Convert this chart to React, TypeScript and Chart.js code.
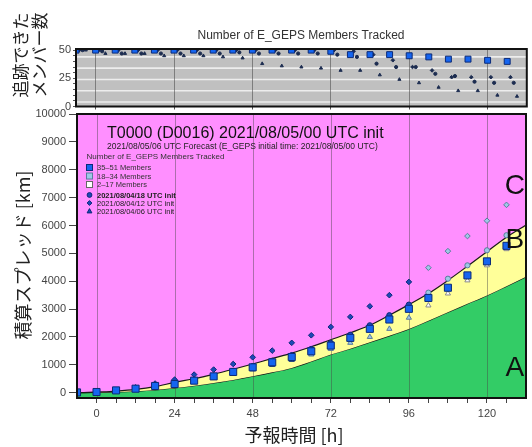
import React, { useEffect, useRef } from 'react';
import { Chart, registerables } from 'chart.js';
Chart.register(...registerables);

const W = 532;
const H = 447;
const LATIN = '"Liberation Sans", Arial, sans-serif';
const CJK = '"Noto Sans CJK JP", "Noto Sans CJK SC", sans-serif';

// ---------- data ----------
const forecastHours = [-6, 0, 6, 12, 18, 24, 30, 36, 42, 48, 54, 60, 66, 72, 78, 84, 90, 96, 102, 108, 114, 120, 126];
const boundHours = [-6, 0, 6, 12, 18, 24, 30, 36, 42, 48, 54, 60, 66, 72, 78, 84, 90, 96, 102, 108, 114, 120, 126, 132];
// upper edge of region A (green) and of region B (yellow), km
const boundA = [0, 10, 25, 55, 100, 170, 250, 350, 460, 590, 730, 890, 1120, 1370, 1580, 1810, 2040, 2290, 2580, 2890, 3190, 3490, 3820, 4160];
const boundB = [0, 20, 60, 120, 220, 370, 500, 660, 840, 1030, 1230, 1420, 1650, 1900, 2150, 2420, 2780, 3160, 3560, 4030, 4540, 5060, 5580, 6020];

// accumulated spread [km]
const spreadT0000 = [10, 25, 83, 144, 241, 313, 432, 586, 745, 910, 1090, 1280, 1486, 1690, 1968, 2291, 2626, 3010, 3400, 3766, 4209, 4712, 5270];
const spread0418 = [10, 25, 85, 150, 255, 335, 460, 615, 785, 955, 1145, 1350, 1570, 1790, 2080, 2420, 2780, 3160, 3590, 4090, 4570, 5110, 5650];
const spread0412 = [10, 25, 100, 190, 330, 470, 650, 830, 1030, 1270, 1510, 1790, 2060, 2360, 2720, 3100, 3500, 3975, 4485, 5080, 5620, 6170, 6740];
const spread0406 = [10, 20, 75, 130, 220, 290, 400, 540, 690, 840, 1000, 1180, 1370, 1570, 1790, 2000, 2290, 2690, 3130, 3560, 4030, 4570, 5150];

// number of members tracked
const membersT0000 = [50, 50, 50, 50, 50, 50, 50, 50, 50, 50, 50, 50, 50, 49, 46, 46, 46, 45, 44, 42, 42, 41, 40];
const members0418 = [50, 49, 47, 47, 47, 47, 47, 47, 48, 47, 47, 47, 47, 46, 44, 38, 35, 35, 29, 27, 22, 21, 21];
const members0412 = [50, 50, 50, 50, 50, 50, 50, 50, 50, 50, 50, 50, 50, 50, 49, 46, 41, 35, 32, 26, 26, 26, 26];
const members0406 = [50, 47, 47, 47, 45, 45, 45, 44, 43, 38, 36, 35, 34, 32, 32, 28, 24, 21, 17, 14, 14, 10, 9];

// ticks
const xLabelHours = [0, 24, 48, 72, 96, 120];
const xMinorHours = [0, 6, 12, 18, 24, 30, 36, 42, 48, 54, 60, 66, 72, 78, 84, 90, 96, 102, 108, 114, 120, 126];
const yTicksMain = [0, 1000, 2000, 3000, 4000, 5000, 6000, 7000, 8000, 9000, 10000];
const yTicksTop = [0, 5, 10, 15, 20, 25, 30, 35, 40, 45, 50];
const yLabelsTop = [0, 25, 50];
const topGuideLines = [4, 14, 24, 34, 44];

// horizontal offsets (hours) used in the member panel to separate the series
const offset0412 = 1;
const offset0418 = 2;
const offset0406 = 3;

const regionLabels = [
  { text: 'C', x: 128.6, y: 7420 },
  { text: 'B', x: 128.6, y: 5480 },
  { text: 'A', x: 128.6, y: 860 },
];

// ---------- styles ----------
const PINK = '#ff8fff';
const GREEN = '#33cc66';
const YELLOW = '#ffff99';
const TOPBG = '#c0c0c0';
const DARK = '#1565f0';
const DARK_SMALL = '#1d48b8';
const LIGHT = '#9ec8e6';
const WHITE = '#ffffff';

const fillFor = (dark: string) => (n: number) => (n >= 35 ? dark : n >= 18 ? LIGHT : WHITE);
const edgeFor = (n: number) => (n >= 35 ? '#0b2a78' : n >= 18 ? '#5a7c9c' : '#8a8a8a');

function pointSet(label: string, xs: number[], ys: number[], members: number[], style: string, radius: number, order: number, dark: string, dotColor?: string) {
  return {
    label,
    data: xs.map((x, i) => ({ x, y: ys[i] })),
    showLine: false,
    pointStyle: style,
    pointRadius: radius,
    pointBorderWidth: 1,
    pointBackgroundColor: dotColor ? dotColor : members.map(fillFor(dark)),
    pointBorderColor: dotColor ? dotColor : members.map(edgeFor),
    order,
  };
}

function drawMarker(ctx: CanvasRenderingContext2D, kind: string, x: number, y: number, r: number) {
  ctx.beginPath();
  if (kind === 'circle') ctx.arc(x, y, r, 0, Math.PI * 2);
  else if (kind === 'diamond') {
    ctx.moveTo(x, y - r); ctx.lineTo(x + r, y); ctx.lineTo(x, y + r); ctx.lineTo(x - r, y); ctx.closePath();
  } else if (kind === 'triangle') {
    ctx.moveTo(x, y - r); ctx.lineTo(x + r, y + r * 0.8); ctx.lineTo(x - r, y + r * 0.8); ctx.closePath();
  }
  ctx.fill();
  ctx.stroke();
}

const framePlugin = {
  id: 'frame',
  afterDraw(chart: any) {
    const { ctx, chartArea: a } = chart;
    ctx.save();
    ctx.strokeStyle = '#111';
    ctx.lineWidth = 2;
    ctx.strokeRect(a.left, a.top, a.right - a.left, a.bottom - a.top);
    ctx.restore();
  },
};

export default function App() {
  const topRef = useRef<HTMLCanvasElement>(null);
  const mainRef = useRef<HTMLCanvasElement>(null);

  useEffect(() => {
    Chart.defaults.font.family = LATIN;

    // ---------------- member panel ----------------
    const topBg = {
      id: 'topBg',
      beforeDraw(chart: any) {
        const { ctx, chartArea: a, scales } = chart;
        ctx.save();
        ctx.fillStyle = TOPBG;
        ctx.fillRect(a.left, a.top, a.right - a.left, a.bottom - a.top);
        ctx.strokeStyle = '#ededed';
        ctx.lineWidth = 1.6;
        topGuideLines.forEach((v) => {
          const y = scales.y.getPixelForValue(v);
          ctx.beginPath(); ctx.moveTo(a.left, y); ctx.lineTo(a.right, y); ctx.stroke();
        });
        ctx.restore();
      },
      afterDraw(chart: any) {
        const { ctx } = chart;
        ctx.save();
        ctx.fillStyle = '#333';
        ctx.font = `12px ${LATIN}`;
        ctx.textAlign = 'center';
        ctx.textBaseline = 'middle';
        ctx.fillText('Number of E_GEPS Members Tracked', 301, 36);
        ctx.fillStyle = '#222';
        ctx.font = `17px ${CJK}`;
        [['追跡できた', 21], ['メンバー数', 40]].forEach(([t, x]) => {
          ctx.save();
          ctx.translate(x as number, 55);
          ctx.rotate(-Math.PI / 2);
          ctx.fillText(t as string, 0, 0);
          ctx.restore();
        });
        ctx.restore();
      },
    };

    const topChart = new Chart(topRef.current!, {
      type: 'line',
      data: {
        datasets: [
          pointSet('T0000', forecastHours, membersT0000, membersT0000, 'rect', 4.2, 1, DARK) as any,
          pointSet('0412', forecastHours.map((h) => h + offset0412), members0412, members0412, 'rectRot', 1.8, 2, DARK, '#1c2c50') as any,
          pointSet('0418', forecastHours.map((h) => h + offset0418), members0418, members0418, 'circle', 1.6, 3, DARK, '#1c2c50') as any,
          pointSet('0406', forecastHours.map((h) => h + offset0406), members0406, members0406, 'triangle', 1.8, 4, DARK, '#1c2c50') as any,
        ],
      },
      options: {
        responsive: false,
        animation: false,
        events: [],
        layout: { padding: { top: 49, left: 0, right: 2, bottom: 0 } },
        plugins: { legend: { display: false }, tooltip: { enabled: false } },
        scales: {
          x: {
            type: 'linear', min: -6, max: 132,
            afterBuildTicks: (s: any) => { s.ticks = xLabelHours.map((v) => ({ value: v })); },
            afterFit: (s: any) => { s.height = H - 106.5; },
            grid: { color: 'rgba(70,70,70,0.55)', lineWidth: 1, tickLength: 3, tickColor: '#555' },
            border: { display: false },
            ticks: { callback: () => '', autoSkip: false, maxRotation: 0 },
          },
          y: {
            type: 'linear', min: 0, max: 51,
            afterBuildTicks: (s: any) => { s.ticks = yTicksTop.map((v) => ({ value: v })); },
            afterFit: (s: any) => { s.width = 76; },
            grid: { drawOnChartArea: false, tickLength: 3, tickColor: '#555' },
            border: { display: false },
            ticks: {
              autoSkip: false, padding: 2, color: '#444', font: { size: 11 },
              callback: (v: any) => (yLabelsTop.includes(v) ? String(v) : ''),
            },
          },
        },
      } as any,
      plugins: [topBg, framePlugin],
    });

    // ---------------- spread panel ----------------
    const mainDeco = {
      id: 'mainDeco',
      beforeDraw(chart: any) {
        const { ctx, chartArea: a } = chart;
        ctx.save();
        ctx.fillStyle = PINK;
        ctx.fillRect(a.left, a.top, a.right - a.left, a.bottom - a.top);
        ctx.restore();
      },
      afterDatasetDraw(chart: any, args: any) {
        if (args.index !== 1) return;
        const { ctx, chartArea: a, scales } = chart;
        ctx.save();
        ctx.strokeStyle = 'rgba(70,70,70,0.45)';
        ctx.lineWidth = 1;
        xLabelHours.forEach((h) => {
          const x = Math.round(scales.x.getPixelForValue(h)) + 0.5;
          ctx.beginPath(); ctx.moveTo(x, a.top); ctx.lineTo(x, a.bottom); ctx.stroke();
        });
        ctx.restore();
      },
      afterDraw(chart: any) {
        const { ctx, scales } = chart;
        ctx.save();
        // region letters
        ctx.fillStyle = '#111';
        ctx.font = `28px ${LATIN}`;
        ctx.textAlign = 'center';
        ctx.textBaseline = 'middle';
        regionLabels.forEach((r) => {
          ctx.fillText(r.text, scales.x.getPixelForValue(r.x), scales.y.getPixelForValue(r.y));
        });
        // headline
        ctx.textAlign = 'left';
        ctx.fillStyle = '#111';
        ctx.font = `16px ${LATIN}`;
        ctx.fillText('T0000 (D0016) 2021/08/05/00 UTC init', 107, 134);
        ctx.fillStyle = '#222';
        ctx.font = `8.5px ${LATIN}`;
        ctx.fillText('2021/08/05/06 UTC Forecast (E_GEPS initial time: 2021/08/05/00 UTC)', 107, 147);
        ctx.fillStyle = '#333';
        ctx.font = `8px ${LATIN}`;
        ctx.fillText('Number of E_GEPS Members Tracked', 86.5, 157);
        // member legend
        const boxes: [string, string, string, number][] = [
          [DARK, '#0b2a78', '35\u201351 Members', 167.5],
          [LIGHT, '#5a7c9c', '18\u201334 Members', 176],
          [WHITE, '#666', '2\u201317 Members', 184.5],
        ];
        ctx.lineWidth = 1;
        boxes.forEach(([f, e, t, y]) => {
          ctx.fillStyle = f; ctx.strokeStyle = e;
          ctx.fillRect(86.5, y - 3, 6, 6);
          ctx.strokeRect(86.5, y - 3, 6, 6);
          ctx.fillStyle = '#333';
          ctx.font = `7.5px ${LATIN}`;
          ctx.fillText(t, 97, y + 0.5);
        });
        const marks: [string, string, number, boolean][] = [
          ['circle', '2021/08/04/18 UTC init', 195, true],
          ['diamond', '2021/08/04/12 UTC init', 203, false],
          ['triangle', '2021/08/04/06 UTC init', 211, false],
        ];
        marks.forEach(([k, t, y, bold]) => {
          ctx.fillStyle = DARK_SMALL; ctx.strokeStyle = '#0b2a78';
          drawMarker(ctx, k, 89.5, y, 2.4);
          ctx.fillStyle = '#222';
          ctx.font = `${bold ? 'bold ' : ''}7.5px ${LATIN}`;
          ctx.fillText(t, 97, y + 0.5);
        });
        // axis titles
        ctx.fillStyle = '#222';
        ctx.font = `18px ${CJK}`;
        ctx.textAlign = 'center';
        ctx.fillText('予報時間 [h]', 294, 435);
        ctx.save();
        ctx.translate(23, 255);
        ctx.rotate(-Math.PI / 2);
        ctx.fillText('積算スプレッド [km]', 0, 0);
        ctx.restore();
        ctx.restore();
      },
    };

    const mainChart = new Chart(mainRef.current!, {
      type: 'line',
      data: {
        datasets: [
          {
            label: 'A', data: boundHours.map((h, i) => ({ x: h, y: boundA[i] })),
            borderColor: '#1a1a1a', borderWidth: 1.2, backgroundColor: GREEN, fill: 'start',
            pointRadius: 0, cubicInterpolationMode: 'monotone', order: 10,
          } as any,
          {
            label: 'B', data: boundHours.map((h, i) => ({ x: h, y: boundB[i] })),
            borderColor: '#1a1a1a', borderWidth: 1.2, backgroundColor: YELLOW, fill: '-1',
            pointRadius: 0, cubicInterpolationMode: 'monotone', order: 9,
          } as any,
          pointSet('0406', forecastHours, spread0406, members0406, 'triangle', 3, 5, DARK_SMALL) as any,
          pointSet('0418', forecastHours, spread0418, members0418, 'circle', 2.6, 4, DARK_SMALL) as any,
          pointSet('0412', forecastHours, spread0412, members0412, 'rectRot', 2.8, 3, DARK_SMALL) as any,
          pointSet('T0000', forecastHours, spreadT0000, membersT0000, 'rect', 5, 1, DARK) as any,
        ],
      },
      options: {
        responsive: false,
        animation: false,
        events: [],
        layout: { padding: { top: 114, left: 0, right: 1, bottom: 0 } },
        plugins: { legend: { display: false }, tooltip: { enabled: false } },
        scales: {
          x: {
            type: 'linear', min: -6, max: 132,
            afterBuildTicks: (s: any) => { s.ticks = xMinorHours.map((v) => ({ value: v })); },
            afterFit: (s: any) => { s.height = H - 398; },
            grid: { drawOnChartArea: false, tickLength: 5, tickColor: '#444' },
            border: { display: false },
            ticks: {
              autoSkip: false, maxRotation: 0, padding: 4, color: '#444', font: { size: 11 },
              callback: (v: any) => (xLabelHours.includes(v) ? String(v) : ''),
            },
          },
          y: {
            type: 'linear', min: -190, max: 10000,
            afterBuildTicks: (s: any) => { s.ticks = yTicksMain.map((v) => ({ value: v })); },
            afterFit: (s: any) => { s.width = 77; },
            grid: { drawOnChartArea: false, tickLength: 8, tickColor: '#444' },
            border: { display: false },
            ticks: {
              autoSkip: false, padding: 3, color: '#444', font: { size: 11 },
              callback: (v: any) => String(v),
            },
          },
        },
      } as any,
      plugins: [mainDeco, framePlugin],
    });

    return () => {
      topChart.destroy();
      mainChart.destroy();
    };
  }, []);

  const cv: React.CSSProperties = { position: 'absolute', left: 0, top: 0, width: W, height: H };
  return (
    <div style={{ position: 'absolute', left: 0, top: 0, width: W, height: H, background: '#fff' }}>
      <canvas ref={topRef} width={W} height={H} style={cv} />
      <canvas ref={mainRef} width={W} height={H} style={cv} />
    </div>
  );
}
